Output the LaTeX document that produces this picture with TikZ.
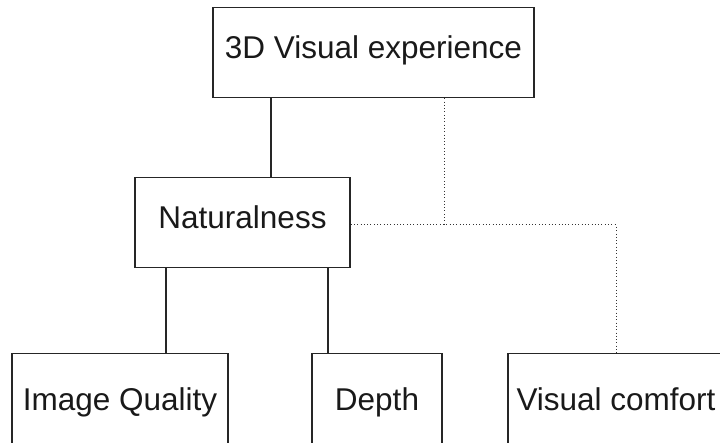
\documentclass[tikz,border=0pt]{standalone}
\usepackage{fontspec}
\setmainfont{Liberation Sans}
\usepackage{tikz}
\usetikzlibrary{positioning}

\begin{document}
\begin{tikzpicture}[
    x=1pt, y=-1pt,
    box/.style={draw=black!85, line width=1.3pt, inner sep=0pt, anchor=north,
        text=black!90, font=\fontsize{31.5}{36}\selectfont,
        text height=51pt, text depth=39pt},
    leaf/.style={box, text height=57pt, text depth=80pt},
    line/.style={draw=black!85, line width=1.3pt},
    dotline/.style={draw=black!80, line width=1pt, dash pattern=on 1pt off 2.3pt}
]
\useasboundingbox (0,0) rectangle (720,443);
\clip (0,0) rectangle (720,443);

\node[box, minimum width=321pt] (exp) at (373.5,7) {3D Visual experience};
\node[box, minimum width=215pt] (nat) at (242.5,177) {Naturalness};
\node[leaf, minimum width=216pt] (iq) at (120,353) {Image Quality};
\node[leaf, minimum width=130pt] (depth) at (377,353) {Depth};
\node[leaf, minimum width=216pt] (comfort) at (616,353) {Visual comfort};

% solid links
\draw[line] (exp.south -| 271,0) -- (271,0 |- nat.north);
\draw[line] (nat.south -| 166,0) -- (166,0 |- iq.north);
\draw[line] (nat.south -| 328,0) -- (328,0 |- depth.north);

% dotted links
\draw[dotline] (exp.south -| 444,0) -- (444,225);
\draw[dotline] (nat.east |- 0,225) -| (comfort.north);
\end{tikzpicture}
\end{document}
